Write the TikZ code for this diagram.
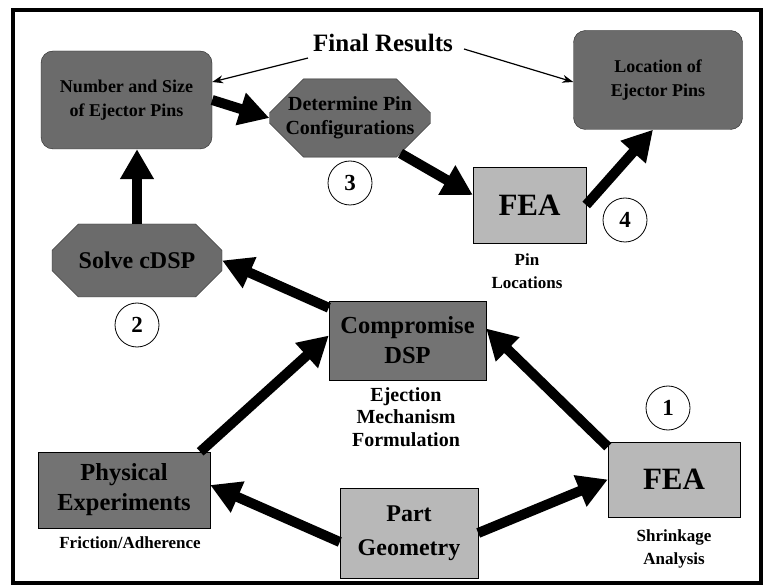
\documentclass[tikz,border=0pt]{standalone}
\usepackage{fontspec}
\setmainfont{Liberation Serif}
\usetikzlibrary{arrows.meta,shapes.misc}

\tikzset{
  darkbox/.style={draw=black!85, fill=black!58, rounded corners=12pt, align=center,
    inner sep=0pt, font=\bfseries\fontsize{18}{24}\selectfont},
  octbox/.style={draw=black!85, fill=black!58, chamfered rectangle,
    chamfered rectangle xsep=16pt, chamfered rectangle ysep=18pt, align=center,
    inner sep=0pt, font=\bfseries\fontsize{20}{24}\selectfont},
  sqbox/.style={draw=black, fill=black!55, align=center, inner sep=0pt,
    font=\bfseries\fontsize{24.5}{30}\selectfont},
  lightbox/.style={draw=black, fill=black!28, align=center, inner sep=0pt,
    font=\bfseries\fontsize{24}{34}\selectfont},
  note/.style={align=center, inner sep=0pt, font=\bfseries\fontsize{17}{23}\selectfont},
  stepno/.style={draw, circle, line width=0.8pt, minimum size=44pt, inner sep=0pt,
    font=\bfseries\fontsize{23}{23}\selectfont},
  flow/.style={line width=10pt, -{Triangle[length=30pt,width=32pt]}},
  pointer/.style={line width=1.2pt, -{Stealth[length=11pt,width=8pt]}}
}

\begin{document}
\begin{tikzpicture}[x=1pt,y=-1pt]
  \useasboundingbox[fill=white] (0,0) rectangle (766,585);
  \draw[line width=3.5pt] (13,10) rectangle (761,583);

  \node[font=\bfseries\fontsize{25}{25}\selectfont, inner sep=2pt] (res) at (383,43) {Final Results};

  \node[darkbox, minimum width=171pt, minimum height=98pt] (num) at (126.5,100) {Number and Size\\of Ejector Pins};
  \node[octbox, minimum width=156pt, minimum height=70pt] (det) at (350,118) {Determine Pin\\Configurations};
  \node[darkbox, minimum width=169pt, minimum height=99pt] (loc) at (658,80) {Location of\\Ejector Pins};
  \node[lightbox, minimum width=113pt, minimum height=76pt, font=\bfseries\fontsize{31}{31}\selectfont] (feaa) at (529.5,205) {FEA};
  \node[octbox, minimum width=170pt, minimum height=73pt, font=\bfseries\fontsize{24}{27}\selectfont] (solve) at (137,260.5) {Solve cDSP};
  \node[sqbox, minimum width=157pt, minimum height=79pt] (comp) at (407.5,340.5) {Compromise\\DSP};
  \node[sqbox, minimum width=172pt, minimum height=76pt] (phys) at (124,490) {Physical\\Experiments};
  \node[lightbox, minimum width=138pt, minimum height=90pt] (part) at (409,533) {Part\\Geometry};
  \node[lightbox, minimum width=132pt, minimum height=75pt, font=\bfseries\fontsize{31}{31}\selectfont] (feab) at (674,479.5) {FEA};

  \node[stepno] (one) at (668,408) {1};
  \node[stepno] (two) at (137,325) {2};
  \node[stepno] (three) at (350,183) {3};
  \node[stepno] (four) at (625,220) {4};

  \node[note] (pinloc) at (527,271) {Pin\\Locations};
  \node[note, font=\bfseries\fontsize{20}{22.5}\selectfont] (ejform) at (406,417) {Ejection\\Mechanism\\Formulation};
  \node[note] (fric) at (130,543) {Friction/Adherence};
  \node[note] (shrink) at (674,548.5) {Shrinkage\\Analysis};

  \draw[pointer] ([xshift=-3pt,yshift=-4pt]res.south west) -- ([yshift=18pt]num.east);
  \draw[pointer] ([xshift=9pt,yshift=-6pt]res.east) -- ([yshift=-2pt]loc.west);

  \draw[flow] (solve.north) -- (solve.north |- num.south);
  \draw[flow] (num.east) -- (det.west);
  \draw[flow] (det.-35) -- ([yshift=10pt]feaa.west);
  \draw[flow] (feaa.east) -- ([xshift=-5pt]loc.south);
  \draw[flow] ([yshift=-7pt]comp.north west) -- (solve.east);
  \draw[flow] ([xshift=-10pt]phys.north east) -- ([yshift=5pt]comp.west);
  \draw[flow] ([yshift=-5pt]feab.north west) -- ([yshift=12pt]comp.east);
  \draw[flow] ([yshift=-9pt]part.west) -- ([yshift=5pt]phys.east);
  \draw[flow] (part.east) -- (feab.west);
\end{tikzpicture}
\end{document}
